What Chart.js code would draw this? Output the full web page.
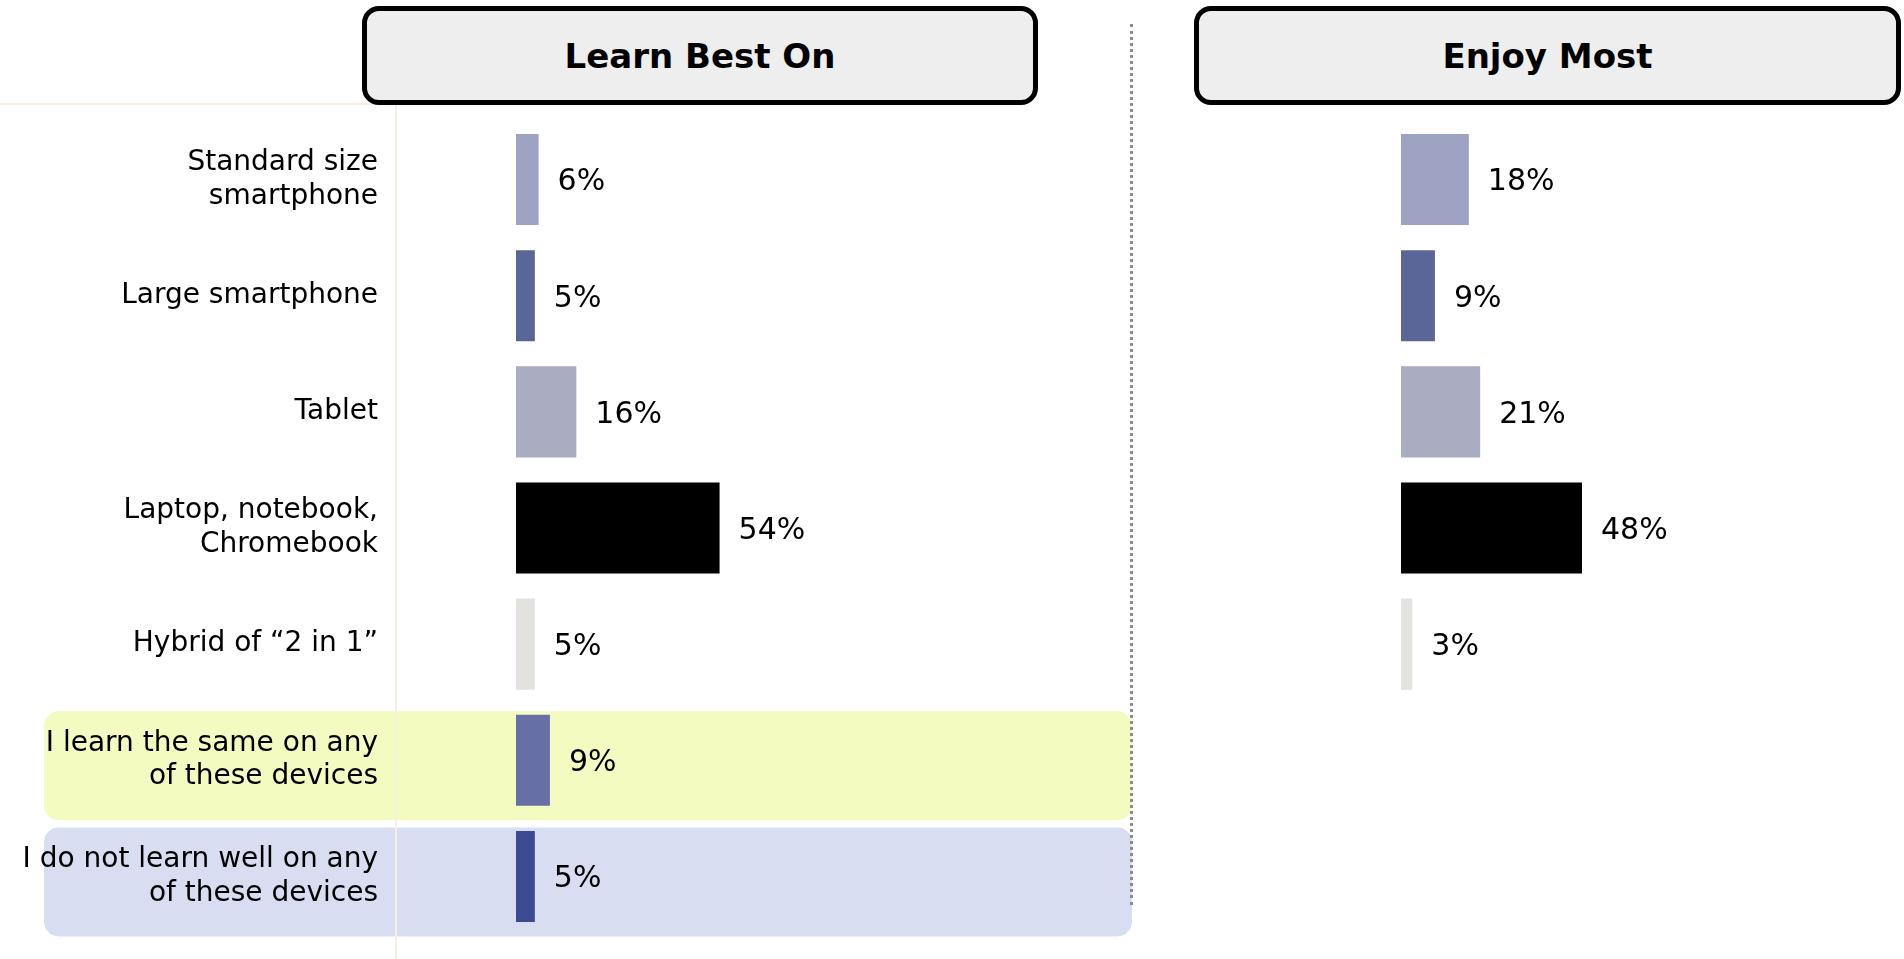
<!DOCTYPE html>
<html>
<head>
<meta charset="utf-8">
<script src="https://cdn.jsdelivr.net/npm/chart.js@4.4.1/dist/chart.umd.min.js"></script>
<style>
  html, body { margin: 0; padding: 0; background: #fff; }
  body { width: 1904px; height: 959px; position: relative; overflow: hidden; font-family: "DejaVu Sans", Verdana, sans-serif; }
  .wrap { position: absolute; top: 0; height: 959px; }
  #wrapLearn { left: 0; width: 1132px; }
  #wrapEnjoy { left: 1132px; width: 772px; }
  .title {
    position: absolute; top: 6px; height: 99px; box-sizing: border-box;
    border: 5px solid #000; border-radius: 17px; background: #eeeeee;
    display: flex; align-items: center; justify-content: center;
    font-weight: bold; font-size: 34px; color: #000;
  }
  #titleLearn { left: 362px; width: 676px; }
  #titleEnjoy { left: 1194px; width: 707px; }
  #divider { position: absolute; left: 1130px; top: 24px; height: 881px; border-left: 3px dotted #8c8c8c; }
</style>
</head>
<body>
<div class="wrap" id="wrapLearn"><canvas id="learnChart"></canvas></div>
<div class="wrap" id="wrapEnjoy"><canvas id="enjoyChart"></canvas></div>
<div id="divider"></div>
<div class="title" id="titleLearn">Learn Best On</div>
<div class="title" id="titleEnjoy">Enjoy Most</div>
<script>
// Device categories (top to bottom)
const categories = [
    ['Standard size', 'smartphone'],
    'Large smartphone',
    'Tablet',
    ['Laptop, notebook,', 'Chromebook'],
    'Hybrid of \u201C2 in 1\u201D',
    ['I learn the same on any', 'of these devices'],
    ['I do not learn well on any', 'of these devices']
];
const learnBestOn = [6, 5, 16, 54, 5, 9, 5];
const enjoyMost = [18, 9, 21, 48, 3, null, null];
const barColors = ['#9fa3c3', '#5b6698', '#aaadc1', '#000000', '#e4e2de', '#6670a7', '#3b4b93'];

// Highlighted rows on the left panel
const bandRows = [5, 6];
const bandColors = ['#f3fbc0', '#d9ddf1'];

const labelFont = { family: 'DejaVu Sans', size: 28, lineHeight: 1.2 };

// Percent labels after each bar
const valueLabels = {
    id: 'valueLabels',
    afterDatasetsDraw(chart) {
        const ctx = chart.ctx;
        const values = chart.data.datasets[0].data;
        ctx.save();
        ctx.font = '30px "DejaVu Sans"';
        ctx.fillStyle = '#000';
        ctx.textAlign = 'left';
        ctx.textBaseline = 'middle';
        chart.getDatasetMeta(0).data.forEach((bar, i) => {
            if (values[i] == null) return;
            ctx.fillText(values[i] + '%', bar.x + 19, bar.y + 3);
        });
        ctx.restore();
    }
};

// Rounded background bands + thin beige guide lines (drawn under the axis labels)
const rowBands = {
    id: 'rowBands',
    beforeDraw(chart) {
        const ctx = chart.ctx;
        const y = chart.scales.y;
        ctx.save();
        bandRows.forEach((row, i) => {
            const c = y.getPixelForValue(row);
            ctx.fillStyle = bandColors[i];
            ctx.beginPath();
            ctx.roundRect(44, c - 49, chart.width - 44, 109, 15);
            ctx.fill();
        });
        ctx.strokeStyle = '#f7efe2';
        ctx.lineWidth = 2;
        ctx.beginPath();
        ctx.moveTo(0, 104);
        ctx.lineTo(396, 104);
        ctx.moveTo(396, 104);
        ctx.lineTo(396, chart.height);
        ctx.stroke();
        ctx.restore();
    }
};

function makeChart(id, values, xMax, showLabels, extraPlugins) {
    const yAxis = {
        display: showLabels,
        grid: { display: false, drawTicks: false },
        border: { display: false },
        ticks: { color: '#000', font: labelFont, padding: 138, autoSkip: false }
    };
    if (showLabels) {
        // fixed label column; drop the extra top/bottom padding Chart.js adds for tick padding
        yAxis.afterFit = s => {
            s.width = 516;
            s.paddingTop = 0;
            s.paddingBottom = 0;
        };
    }
    return new Chart(document.getElementById(id), {
        type: 'bar',
        data: {
            labels: categories,
            datasets: [{
                data: values,
                backgroundColor: barColors,
                borderWidth: 0,
                categoryPercentage: 1,
                barPercentage: 0.784
            }]
        },
        options: {
            indexAxis: 'y',
            responsive: true,
            maintainAspectRatio: false,
            animation: false,
            layout: {
                padding: { top: 121.5, bottom: 24.5, left: showLabels ? 0 : 269, right: 0 }
            },
            plugins: {
                legend: { display: false },
                tooltip: { enabled: false }
            },
            scales: {
                x: { display: false, min: 0, max: xMax },
                y: yAxis
            }
        },
        plugins: [valueLabels].concat(extraPlugins)
    });
}

makeChart('learnChart', learnBestOn, 163.4, true, [rowBands]);
makeChart('enjoyChart', enjoyMost, 133.4, false, []);
</script>
</body>
</html>
